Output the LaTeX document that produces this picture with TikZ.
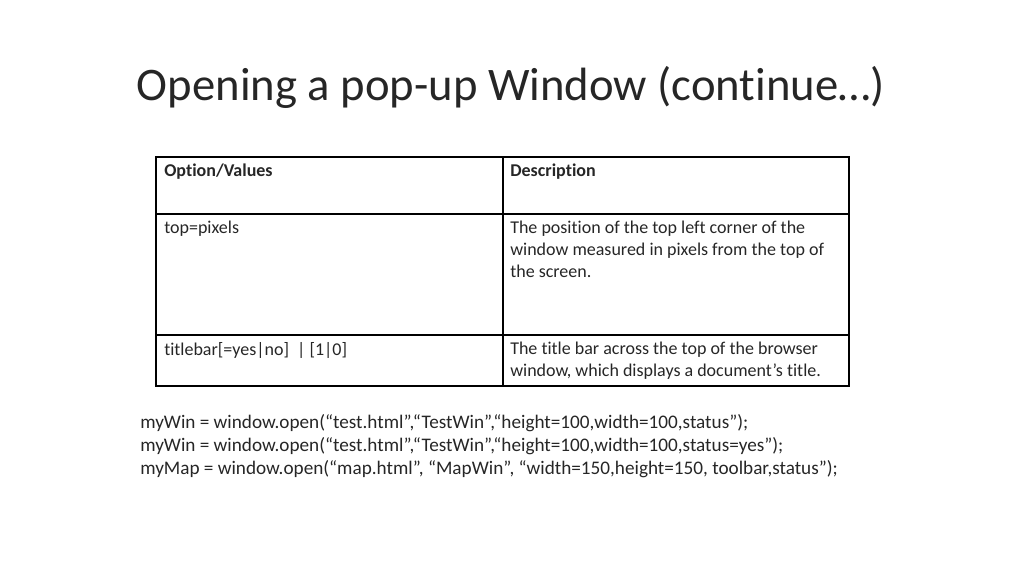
\documentclass[tikz,border=0pt]{standalone}
\usepackage{fontspec}
\setmainfont[Ligatures=NoCommon]{Carlito}
\definecolor{txt}{RGB}{38,38,38}
\begin{document}
\begin{tikzpicture}[x=0.75pt,y=-0.75pt,
  cell/.style={anchor=north west,inner sep=0pt,align=left,text=txt,font=\fontsize{13.5}{16.5}\selectfont},
  code/.style={anchor=west,inner sep=0pt,text=txt,font=\fontsize{14.4}{15}\selectfont},
  grid/.style={line width=0.8pt},
  frame/.style={line width=1.6pt}]
\useasboundingbox (0,0) rectangle (1024,576);
\node[inner sep=0pt,text=txt,font=\fontsize{35}{40}\selectfont] (title) at (511,87) {Opening a pop-up Window (continue…)};
\draw[grid] (503,157) -- (503,386);
\draw[grid] (156,214) -- (849,214);
\draw[grid] (156,335) -- (849,335);
\draw[frame] (156,157) rectangle (849,386);
\node[cell,font=\bfseries\fontsize{13.5}{16.5}\selectfont] (h1) at (164,164) {Option/Values};
\node[cell,font=\bfseries\fontsize{13.5}{16.5}\selectfont] (h2) at (510,164) {Description};
\node[cell] (a1) at (164,221) {top=pixels};
\node[cell] (b1) at (510,221) {The position of the top left corner of the\\window measured in pixels from the top of\\the screen.};
\node[cell] (a2) at (164,342) {titlebar[=yes|no]\ \ | [1|0]};
\node[cell] (b2) at (510,342) {The title bar across the top of the browser\\window, which displays a document’s title.};
\node[code] (c1) at (140,423) {myWin = window.open(“test.html”,“TestWin”,“height=100,width=100,status”);};
\node[code] (c2) at (140,446) {myWin = window.open(“test.html”,“TestWin”,“height=100,width=100,status=yes”);};
\node[code] (c3) at (140,469) {myMap = window.open(“map.html”, “MapWin”, “width=150,height=150, toolbar,status”);};
\end{tikzpicture}
\end{document}
